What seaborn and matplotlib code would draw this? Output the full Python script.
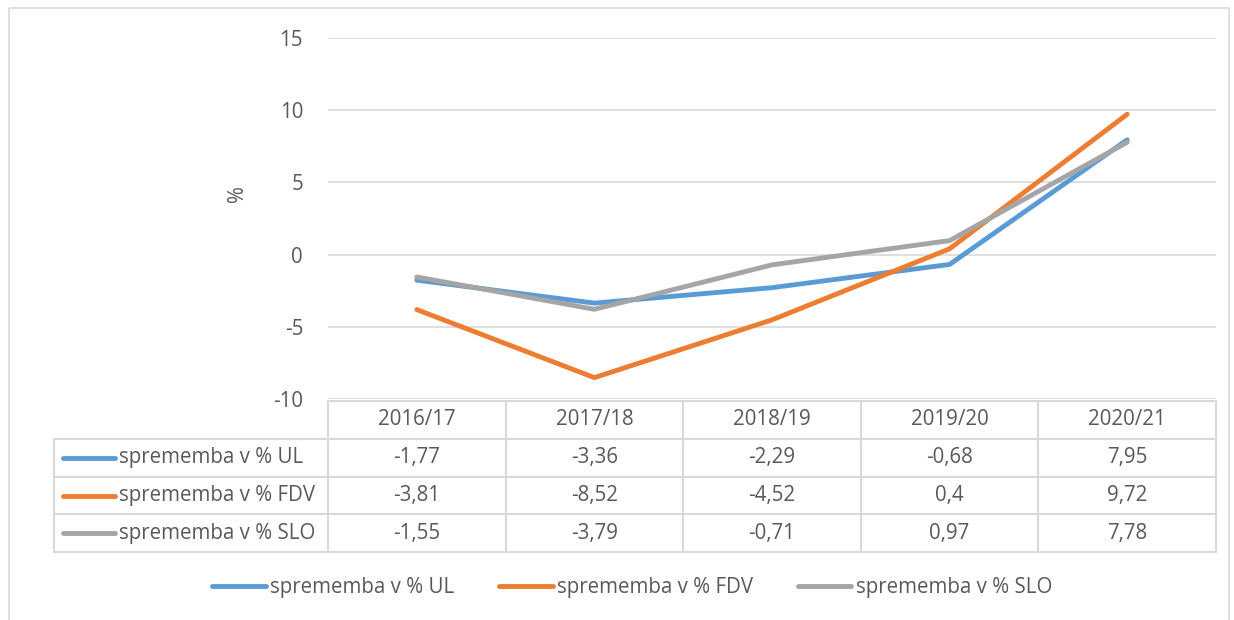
import pandas as pd
import seaborn as sns
import matplotlib.pyplot as plt
from matplotlib.lines import Line2D

# podatki
leta = ["2016/17", "2017/18", "2018/19", "2019/20", "2020/21"]
serije = ["sprememba v % UL", "sprememba v % FDV", "sprememba v % SLO"]
ul = [-1.77, -3.36, -2.29, -0.68, 7.95]
fdv = [-3.81, -8.52, -4.52, 0.4, 9.72]
slo = [-1.55, -3.79, -0.71, 0.97, 7.78]
barve = ["#5B9BD5", "#ED7D31", "#A5A5A5"]
yticks = [-10, -5, 0, 5, 10, 15]

df = pd.DataFrame({"leto": leta * 3,
                   "x": list(range(len(leta))) * 3,
                   "vrednost": ul + fdv + slo,
                   "serija": [s for s in serije for _ in leta]})

sns.set_style("white")
plt.rcParams["font.family"] = ["Open Sans", "DejaVu Sans"]
txt = "#595959"
grid = "#D9D9D9"
fs = 14.8
lw = 3.5

W, H = 1234, 620
fig = plt.figure(figsize=(W / 100, H / 100), dpi=100)

# ozadje v pikslih (tabela, okvir)
bg = fig.add_axes([0, 0, 1, 1], zorder=0)
bg.set_xlim(0, W)
bg.set_ylim(H, 0)
bg.axis("off")
bg.add_patch(plt.Rectangle((9, 8), W - 14, H - 6, fill=False, ec=grid, lw=1.2))

# graf
L, R, T, B = 328, 1216, 38, 399
ax = fig.add_axes([L / W, 1 - B / H, (R - L) / W, (B - T) / H], zorder=1)
ax.patch.set_alpha(0)
sns.lineplot(data=df, x="x", y="vrednost", hue="serija", palette=barve,
             linewidth=lw, ax=ax, legend=False, solid_capstyle="round")
ax.set_xlim(-0.5, len(leta) - 0.5)
ax.set_ylim(yticks[0], yticks[-1])
ax.set_yticks(yticks)
ax.set_yticklabels([str(v) for v in yticks], color=txt, fontsize=fs)
ax.set_xticks([])
ax.set_xlabel("")
ax.set_ylabel("%", color=txt, fontsize=fs)
ax.yaxis.set_label_coords(-0.09, 0.57)
ax.tick_params(axis="y", length=0, pad=18)
ax.grid(axis="y", color=grid, lw=1.2)
ax.set_axisbelow(True)
for s in ax.spines.values():
    s.set_visible(False)

# tabela s podatki
cw = (R - L) / len(leta)
y0, rh = 401, 37.8
tl = 54
kw = dict(color=grid, lw=1.5)
bg.plot([L, R], [y0, y0], **kw)
for i in range(4):
    bg.plot([tl, R], [y0 + rh * (i + 1)] * 2, **kw)
bg.plot([tl, tl], [y0 + rh, y0 + 4 * rh], **kw)
for j in range(len(leta) + 1):
    bg.plot([L + j * cw] * 2, [y0, y0 + 4 * rh], **kw)
for j, lt in enumerate(leta):
    bg.text(L + (j + 0.5) * cw, y0 + rh / 2, lt, ha="center", va="center",
            color=txt, fontsize=fs)
for i, (ime, vals, c) in enumerate(zip(serije, [ul, fdv, slo], barve)):
    yc = y0 + rh * (i + 1.5)
    bg.plot([63, 115], [yc, yc], color=c, lw=lw, solid_capstyle="round")
    bg.text(119, yc, ime, ha="left", va="center", color=txt, fontsize=fs)
    for j, v in enumerate(vals):
        bg.text(L + (j + 0.5) * cw, yc, f"{v:g}".replace(".", ","),
                ha="center", va="center", color=txt, fontsize=fs)

# legenda
handles = [Line2D([], [], color=c, lw=lw, solid_capstyle="round") for c in barve]
fig.legend(handles, serije, loc="center", bbox_to_anchor=(632 / W, 1 - 588 / H),
           ncol=3, frameon=False, fontsize=fs, labelcolor=txt,
           handlelength=2.6, handletextpad=0.2, columnspacing=2.2)

fig.savefig("out.png", dpi=100)
